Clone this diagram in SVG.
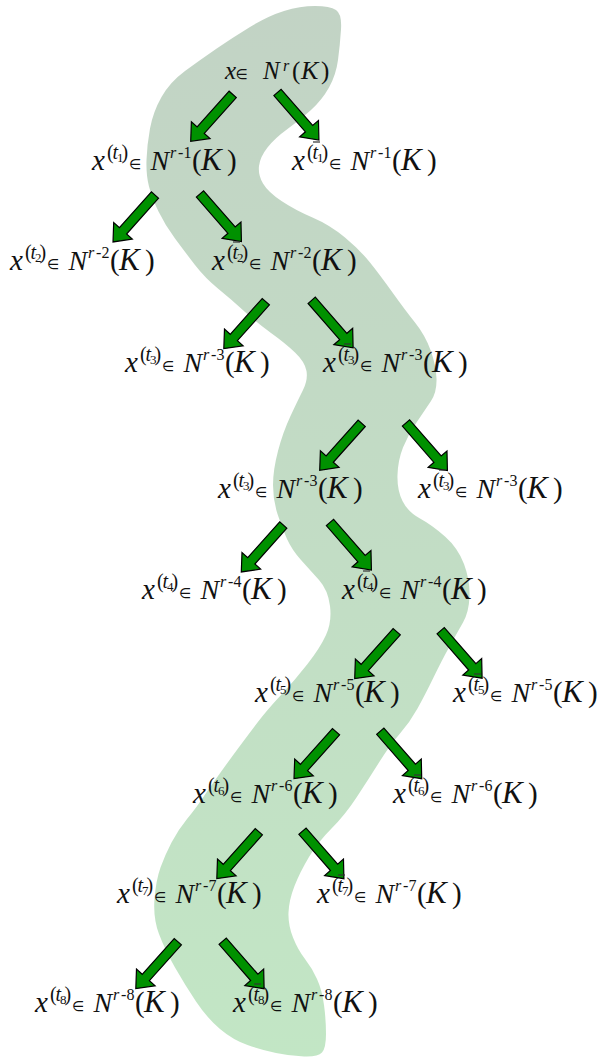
<svg xmlns="http://www.w3.org/2000/svg" xmlns:xlink="http://www.w3.org/1999/xlink" width="602" height="1058" viewBox="0 0 602 1058">
<style>
text{fill:#111;font-family:"Liberation Serif","Times New Roman",serif;font-style:normal}
.x{font-style:italic;font-size:29px}
.sp{font-size:20px}
.sb{font-size:13px}
.it{font-style:italic}
.el{font-family:"DejaVu Sans",sans-serif;font-size:14px}
.N{font-style:italic;font-size:28px}
.ss{font-size:16px}
.p{font-size:29px}
.K{font-style:italic;font-size:31px}
.b{stroke:#333;stroke-width:1.2;fill:none}
.ar{fill:#009100;stroke:#000;stroke-width:1.2;stroke-linejoin:miter}
</style>
<defs>
<linearGradient id="bg" gradientUnits="userSpaceOnUse" x1="0" y1="0" x2="0" y2="1058">
<stop offset="0" stop-color="#c2d3c5"/>
<stop offset="1" stop-color="#c2e6c5"/>
</linearGradient>
<polygon id="arw" points="0,-4.8 48,-4.8 48,-12.5 63,0 48,12.5 48,4.8 0,4.8"/>
</defs>
<rect width="602" height="1058" fill="#fff"/>
<path id="band" fill="url(#bg)" d="M284,11 Q300,6 315,6 Q330,6 336,10 Q342,14 341,29.5 Q340,45 338,60 Q336,75 329,87.5 Q322,100 311,110 Q300,120 287.5,129 Q275,138 267.5,147.5 Q260,157 259,166 Q258,175 263,183.5 Q268,192 281.5,201 Q295,210 312.5,217.5 Q330,225 345,237.5 Q360,250 370,262.5 Q380,275 392.5,292.5 Q405,310 415,322.5 Q425,335 430.5,350 Q436,365 436.5,378.5 Q437,392 431,401 Q425,410 416.5,422.5 Q408,435 403,447.5 Q398,460 397.5,475 Q397,490 402.5,501 Q408,512 420,518.5 Q432,525 445,536.5 Q458,548 464,564 Q470,580 469.5,596 Q469,612 463,622.5 Q457,633 449.5,646.5 Q442,660 433.5,677.5 Q425,695 417.5,708.5 Q410,722 400,733.5 Q390,745 379,762.5 Q368,780 356.5,797.5 Q345,815 331.5,828.5 Q318,842 309,857 Q300,872 294.5,886 Q289,900 288.5,912.5 Q288,925 293,937.5 Q298,950 305,959 Q312,968 317,979 Q322,990 324,1005 Q326,1020 326,1034 Q326,1048 322,1052.5 Q318,1057 304,1056.5 Q290,1056 276,1053 Q262,1050 247.5,1045 Q233,1040 220,1029 Q207,1018 196,1001.5 Q185,985 175,967.5 Q165,950 159,934 Q153,918 154.5,899 Q156,880 160.5,867.5 Q165,855 171.5,842.5 Q178,830 187,819 Q196,808 202,799 Q208,790 218,776 Q228,762 238,748.5 Q248,735 257.5,722.5 Q267,710 281,695 Q295,680 307.5,664 Q320,648 326,635 Q332,622 330,606 Q328,590 319,580 Q310,570 301,560 Q292,550 287,539 Q282,528 277.5,514 Q273,500 273,485 Q273,470 278,451 Q283,432 290.5,416 Q298,400 303,390 Q308,380 306.5,371 Q305,362 295,352.5 Q285,343 271,333 Q257,323 244.5,311.5 Q232,300 218.5,289 Q205,278 195,265 Q185,252 175,238.5 Q165,225 158.5,211.5 Q152,198 149,186.5 Q146,175 146.5,160 Q147,145 150,128.5 Q153,112 161.5,97 Q170,82 185,71 Q200,60 216,49 Q232,38 250,27 Q268,16 284,11 Z"/>

<g id="connectors">
<use xlink:href="#arw" class="ar" transform="translate(232.7,94.4) rotate(131.8)"/>
<use xlink:href="#arw" class="ar" transform="translate(277.5,92.5) rotate(48.9)"/>
<use xlink:href="#arw" class="ar" transform="translate(155,195) rotate(131.8)"/>
<use xlink:href="#arw" class="ar" transform="translate(200,194) rotate(48.9)"/>
<use xlink:href="#arw" class="ar" transform="translate(265.8,301.7) rotate(131.8)"/>
<use xlink:href="#arw" class="ar" transform="translate(311.7,300.3) rotate(48.9)"/>
<use xlink:href="#arw" class="ar" transform="translate(361.7,423.3) rotate(131.8)"/>
<use xlink:href="#arw" class="ar" transform="translate(406,423) rotate(48.9)"/>
<use xlink:href="#arw" class="ar" transform="translate(283.3,525) rotate(131.8)"/>
<use xlink:href="#arw" class="ar" transform="translate(330,522.5) rotate(48.9)"/>
<use xlink:href="#arw" class="ar" transform="translate(396.7,631.7) rotate(131.8)"/>
<use xlink:href="#arw" class="ar" transform="translate(440.7,630.7) rotate(48.9)"/>
<use xlink:href="#arw" class="ar" transform="translate(336,731.7) rotate(131.8)"/>
<use xlink:href="#arw" class="ar" transform="translate(380.3,731.2) rotate(48.9)"/>
<use xlink:href="#arw" class="ar" transform="translate(258.8,831.7) rotate(131.8)"/>
<use xlink:href="#arw" class="ar" transform="translate(302.5,831.2) rotate(48.9)"/>
<use xlink:href="#arw" class="ar" transform="translate(177.8,941.7) rotate(131.8)"/>
<use xlink:href="#arw" class="ar" transform="translate(222.7,941.2) rotate(48.9)"/>
</g>

<g id="n0" transform="translate(225,79)">
<text class="x" style="font-size:25px" x="0">x</text>
<text class="el" x="10.5">∈</text>
<text class="N" style="font-size:25px" x="38">N</text>
<text class="ss it" x="58" y="-8">r</text>
<text class="p" style="font-size:25px"><tspan x="67">(</tspan><tspan class="it" x="76" style="font-size:26px">K</tspan><tspan x="96">)</tspan></text>
</g>

<g id="n1L" transform="translate(92,170)">
<text class="x" x="0">x</text>
<text class="sp" y="-11"><tspan x="15">(</tspan><tspan class="it" x="20.5">t</tspan><tspan class="sb" x="25" y="-8">1</tspan><tspan x="29.5" y="-11">)</tspan></text>
<text class="el" x="37" y="-1">∈</text>
<text class="N" x="58.5">N</text>
<text class="ss" y="-12.5"><tspan class="it" x="78">r</tspan><tspan x="86">-</tspan><tspan x="91.5">1</tspan></text>
<text class="p"><tspan x="100">(</tspan><tspan class="K" x="109">K</tspan><tspan x="135">)</tspan></text>
</g>
<g id="n1R" transform="translate(292,170)">
<text class="x" x="0">x</text>
<text class="sp" y="-11"><tspan x="15">(</tspan><tspan class="it" x="20.5">t</tspan><tspan class="sb" x="25" y="-8">1</tspan><tspan x="29.5" y="-11">)</tspan></text>
<path class="b" d="M21,-28H28"/>
<text class="el" x="37" y="-1">∈</text>
<text class="N" x="58.5">N</text>
<text class="ss" y="-12.5"><tspan class="it" x="78">r</tspan><tspan x="86">-</tspan><tspan x="91.5">1</tspan></text>
<text class="p"><tspan x="100">(</tspan><tspan class="K" x="109">K</tspan><tspan x="135">)</tspan></text>
</g>

<g id="n2L" transform="translate(10,270)">
<text class="x" x="0">x</text>
<text class="sp" y="-11"><tspan x="15">(</tspan><tspan class="it" x="20.5">t</tspan><tspan class="sb" x="25" y="-8">2</tspan><tspan x="29.5" y="-11">)</tspan></text>
<text class="el" x="37" y="-1">∈</text>
<text class="N" x="58.5">N</text>
<text class="ss" y="-12.5"><tspan class="it" x="78">r</tspan><tspan x="86">-</tspan><tspan x="91.5">2</tspan></text>
<text class="p"><tspan x="100">(</tspan><tspan class="K" x="109">K</tspan><tspan x="135">)</tspan></text>
</g>
<g id="n2R" transform="translate(212,270)">
<text class="x" x="0">x</text>
<text class="sp" y="-11"><tspan x="15">(</tspan><tspan class="it" x="20.5">t</tspan><tspan class="sb" x="25" y="-8">2</tspan><tspan x="29.5" y="-11">)</tspan></text>
<path class="b" d="M21,-28H28"/>
<text class="el" x="37" y="-1">∈</text>
<text class="N" x="58.5">N</text>
<text class="ss" y="-12.5"><tspan class="it" x="78">r</tspan><tspan x="86">-</tspan><tspan x="91.5">2</tspan></text>
<text class="p"><tspan x="100">(</tspan><tspan class="K" x="109">K</tspan><tspan x="135">)</tspan></text>
</g>

<g id="n3L" transform="translate(125,372)">
<text class="x" x="0">x</text>
<text class="sp" y="-11"><tspan x="15">(</tspan><tspan class="it" x="20.5">t</tspan><tspan class="sb" x="25" y="-8">3</tspan><tspan x="29.5" y="-11">)</tspan></text>
<text class="el" x="37" y="-1">∈</text>
<text class="N" x="58.5">N</text>
<text class="ss" y="-12.5"><tspan class="it" x="78">r</tspan><tspan x="86">-</tspan><tspan x="91.5">3</tspan></text>
<text class="p"><tspan x="100">(</tspan><tspan class="K" x="109">K</tspan><tspan x="135">)</tspan></text>
</g>
<g id="n3R" transform="translate(323,372)">
<text class="x" x="0">x</text>
<text class="sp" y="-11"><tspan x="15">(</tspan><tspan class="it" x="20.5">t</tspan><tspan class="sb" x="25" y="-8">3</tspan><tspan x="29.5" y="-11">)</tspan></text>
<path class="b" d="M21,-28H28"/>
<text class="el" x="37" y="-1">∈</text>
<text class="N" x="58.5">N</text>
<text class="ss" y="-12.5"><tspan class="it" x="78">r</tspan><tspan x="86">-</tspan><tspan x="91.5">3</tspan></text>
<text class="p"><tspan x="100">(</tspan><tspan class="K" x="109">K</tspan><tspan x="135">)</tspan></text>
</g>

<g id="n4L" transform="translate(218,498)">
<text class="x" x="0">x</text>
<text class="sp" y="-11"><tspan x="15">(</tspan><tspan class="it" x="20.5">t</tspan><tspan class="sb" x="25" y="-8">3</tspan><tspan x="29.5" y="-11">)</tspan></text>
<text class="el" x="37" y="-1">∈</text>
<text class="N" x="58.5">N</text>
<text class="ss" y="-12.5"><tspan class="it" x="78">r</tspan><tspan x="86">-</tspan><tspan x="91.5">3</tspan></text>
<text class="p"><tspan x="100">(</tspan><tspan class="K" x="109">K</tspan><tspan x="135">)</tspan></text>
</g>
<g id="n4R" transform="translate(418,498)">
<text class="x" x="0">x</text>
<text class="sp" y="-11"><tspan x="15">(</tspan><tspan class="it" x="20.5">t</tspan><tspan class="sb" x="25" y="-8">3</tspan><tspan x="29.5" y="-11">)</tspan></text>
<path class="b" d="M21,-28H28"/>
<text class="el" x="37" y="-1">∈</text>
<text class="N" x="58.5">N</text>
<text class="ss" y="-12.5"><tspan class="it" x="78">r</tspan><tspan x="86">-</tspan><tspan x="91.5">3</tspan></text>
<text class="p"><tspan x="100">(</tspan><tspan class="K" x="109">K</tspan><tspan x="135">)</tspan></text>
</g>

<g id="n5L" transform="translate(142,599)">
<text class="x" x="0">x</text>
<text class="sp" y="-11"><tspan x="15">(</tspan><tspan class="it" x="20.5">t</tspan><tspan class="sb" x="25" y="-8">4</tspan><tspan x="29.5" y="-11">)</tspan></text>
<text class="el" x="37" y="-1">∈</text>
<text class="N" x="58.5">N</text>
<text class="ss" y="-12.5"><tspan class="it" x="78">r</tspan><tspan x="86">-</tspan><tspan x="91.5">4</tspan></text>
<text class="p"><tspan x="100">(</tspan><tspan class="K" x="109">K</tspan><tspan x="135">)</tspan></text>
</g>
<g id="n5R" transform="translate(342,599)">
<text class="x" x="0">x</text>
<text class="sp" y="-11"><tspan x="15">(</tspan><tspan class="it" x="20.5">t</tspan><tspan class="sb" x="25" y="-8">4</tspan><tspan x="29.5" y="-11">)</tspan></text>
<path class="b" d="M21,-28H28"/>
<text class="el" x="37" y="-1">∈</text>
<text class="N" x="58.5">N</text>
<text class="ss" y="-12.5"><tspan class="it" x="78">r</tspan><tspan x="86">-</tspan><tspan x="91.5">4</tspan></text>
<text class="p"><tspan x="100">(</tspan><tspan class="K" x="109">K</tspan><tspan x="135">)</tspan></text>
</g>

<g id="n6L" transform="translate(255,702)">
<text class="x" x="0">x</text>
<text class="sp" y="-11"><tspan x="15">(</tspan><tspan class="it" x="20.5">t</tspan><tspan class="sb" x="25" y="-8">5</tspan><tspan x="29.5" y="-11">)</tspan></text>
<text class="el" x="37" y="-1">∈</text>
<text class="N" x="58.5">N</text>
<text class="ss" y="-12.5"><tspan class="it" x="78">r</tspan><tspan x="86">-</tspan><tspan x="91.5">5</tspan></text>
<text class="p"><tspan x="100">(</tspan><tspan class="K" x="109">K</tspan><tspan x="135">)</tspan></text>
</g>
<g id="n6R" transform="translate(453,702)">
<text class="x" x="0">x</text>
<text class="sp" y="-11"><tspan x="15">(</tspan><tspan class="it" x="20.5">t</tspan><tspan class="sb" x="25" y="-8">5</tspan><tspan x="29.5" y="-11">)</tspan></text>
<path class="b" d="M21,-28H28"/>
<text class="el" x="37" y="-1">∈</text>
<text class="N" x="58.5">N</text>
<text class="ss" y="-12.5"><tspan class="it" x="78">r</tspan><tspan x="86">-</tspan><tspan x="91.5">5</tspan></text>
<text class="p"><tspan x="100">(</tspan><tspan class="K" x="109">K</tspan><tspan x="135">)</tspan></text>
</g>

<g id="n7L" transform="translate(193,803)">
<text class="x" x="0">x</text>
<text class="sp" y="-11"><tspan x="15">(</tspan><tspan class="it" x="20.5">t</tspan><tspan class="sb" x="25" y="-8">6</tspan><tspan x="29.5" y="-11">)</tspan></text>
<text class="el" x="37" y="-1">∈</text>
<text class="N" x="58.5">N</text>
<text class="ss" y="-12.5"><tspan class="it" x="78">r</tspan><tspan x="86">-</tspan><tspan x="91.5">6</tspan></text>
<text class="p"><tspan x="100">(</tspan><tspan class="K" x="109">K</tspan><tspan x="135">)</tspan></text>
</g>
<g id="n7R" transform="translate(393,803)">
<text class="x" x="0">x</text>
<text class="sp" y="-11"><tspan x="15">(</tspan><tspan class="it" x="20.5">t</tspan><tspan class="sb" x="25" y="-8">6</tspan><tspan x="29.5" y="-11">)</tspan></text>
<path class="b" d="M21,-28H28"/>
<text class="el" x="37" y="-1">∈</text>
<text class="N" x="58.5">N</text>
<text class="ss" y="-12.5"><tspan class="it" x="78">r</tspan><tspan x="86">-</tspan><tspan x="91.5">6</tspan></text>
<text class="p"><tspan x="100">(</tspan><tspan class="K" x="109">K</tspan><tspan x="135">)</tspan></text>
</g>

<g id="n8L" transform="translate(117,903)">
<text class="x" x="0">x</text>
<text class="sp" y="-11"><tspan x="15">(</tspan><tspan class="it" x="20.5">t</tspan><tspan class="sb" x="25" y="-8">7</tspan><tspan x="29.5" y="-11">)</tspan></text>
<text class="el" x="37" y="-1">∈</text>
<text class="N" x="58.5">N</text>
<text class="ss" y="-12.5"><tspan class="it" x="78">r</tspan><tspan x="86">-</tspan><tspan x="91.5">7</tspan></text>
<text class="p"><tspan x="100">(</tspan><tspan class="K" x="109">K</tspan><tspan x="135">)</tspan></text>
</g>
<g id="n8R" transform="translate(317,903)">
<text class="x" x="0">x</text>
<text class="sp" y="-11"><tspan x="15">(</tspan><tspan class="it" x="20.5">t</tspan><tspan class="sb" x="25" y="-8">7</tspan><tspan x="29.5" y="-11">)</tspan></text>
<path class="b" d="M21,-28H28"/>
<text class="el" x="37" y="-1">∈</text>
<text class="N" x="58.5">N</text>
<text class="ss" y="-12.5"><tspan class="it" x="78">r</tspan><tspan x="86">-</tspan><tspan x="91.5">7</tspan></text>
<text class="p"><tspan x="100">(</tspan><tspan class="K" x="109">K</tspan><tspan x="135">)</tspan></text>
</g>

<g id="n9L" transform="translate(35,1012)">
<text class="x" x="0">x</text>
<text class="sp" y="-11"><tspan x="15">(</tspan><tspan class="it" x="20.5">t</tspan><tspan class="sb" x="25" y="-8">8</tspan><tspan x="29.5" y="-11">)</tspan></text>
<text class="el" x="37" y="-1">∈</text>
<text class="N" x="58.5">N</text>
<text class="ss" y="-12.5"><tspan class="it" x="78">r</tspan><tspan x="86">-</tspan><tspan x="91.5">8</tspan></text>
<text class="p"><tspan x="100">(</tspan><tspan class="K" x="109">K</tspan><tspan x="135">)</tspan></text>
</g>
<g id="n9R" transform="translate(233,1012)">
<text class="x" x="0">x</text>
<text class="sp" y="-11"><tspan x="15">(</tspan><tspan class="it" x="20.5">t</tspan><tspan class="sb" x="25" y="-8">8</tspan><tspan x="29.5" y="-11">)</tspan></text>
<path class="b" d="M21,-28H28"/>
<text class="el" x="37" y="-1">∈</text>
<text class="N" x="58.5">N</text>
<text class="ss" y="-12.5"><tspan class="it" x="78">r</tspan><tspan x="86">-</tspan><tspan x="91.5">8</tspan></text>
<text class="p"><tspan x="100">(</tspan><tspan class="K" x="109">K</tspan><tspan x="135">)</tspan></text>
</g>
</svg>
